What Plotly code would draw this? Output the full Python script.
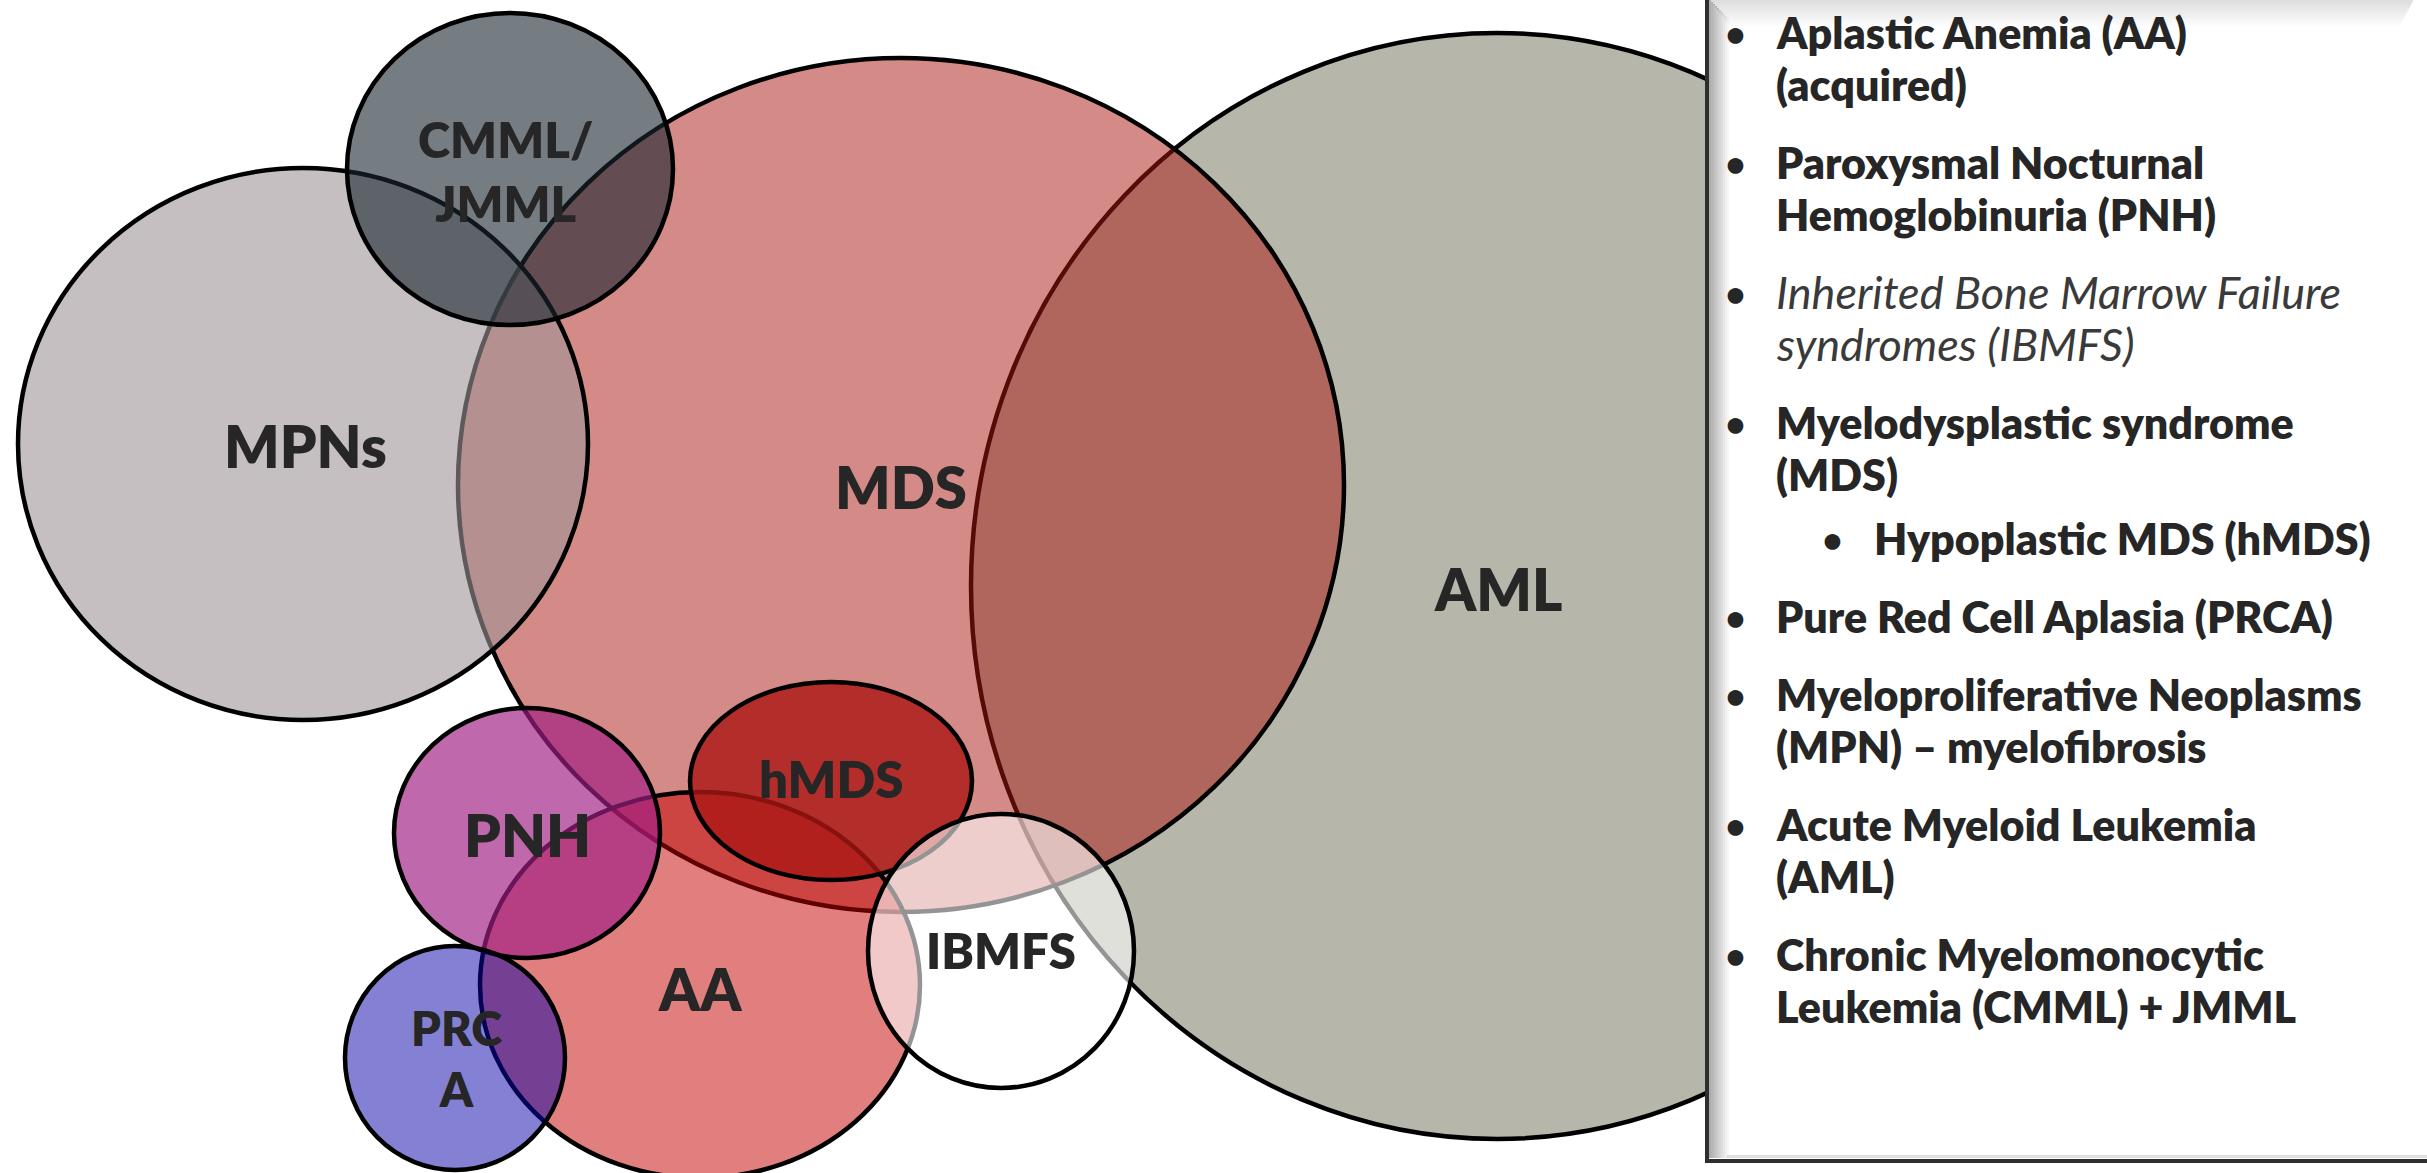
import plotly.graph_objects as go

W, H = 2427, 1173

# ---- Venn / overlap diagram data (centres and radii in chart units) ----
names = ["AML", "MDS", "MPNs", "CMML/JMML", "AA", "hMDS", "PNH", "PRCA", "IBMFS"]
cx = [1497, 901, 303, 510, 700, 831, 527, 455, 1001]
cy = [586, 485, 444, 169, 985, 781, 833, 1058, 951]
rx = [526, 443, 285, 163, 220, 141, 133, 110, 133]
ry = [553, 427, 276, 156, 193, 99, 125, 112, 137]

labels = ["AML", "MDS", "MPNs", "CMML/<br>JMML", "AA", "hMDS", "PNH", "PRC<br>A", "IBMFS"]
label_x = [1498, 901, 305, 505, 700, 831, 527, 456, 1001]
label_y = [588, 486, 445, 171, 988, 778, 834, 1058, 950]

# ---- legend list ----
legend_items = [
    ["Aplastic Anemia (AA)", "(acquired)"],
    ["Paroxysmal Nocturnal", "Hemoglobinuria (PNH)"],
    ["Inherited Bone Marrow Failure", "syndromes (IBMFS)"],
    ["Myelodysplastic syndrome", "(MDS)"],
    ["Hypoplastic MDS (hMDS)"],
    ["Pure Red Cell Aplasia (PRCA)"],
    ["Myeloproliferative Neoplasms", "(MPN) – myelofibrosis"],
    ["Acute Myeloid Leukemia", "(AML)"],
    ["Chronic Myelomonocytic", "Leukemia (CMML) + JMML"],
]
legend_level = [0, 0, 0, 0, 1, 0, 0, 0, 0]
legend_italic = [False, False, True, False, False, False, False, False, False]

# ---- styles ----
fills = [
    "rgba(182,182,170,1)",
    "rgba(169,21,15,0.5)",
    "rgba(158,148,152,0.6)",
    "rgba(25,37,47,0.6)",
    "rgba(195,0,0,0.5)",
    "rgba(170,22,20,0.8)",
    "rgba(161,30,131,0.67)",
    "rgba(9,1,169,0.5)",
    "rgba(255,255,255,0.58)",
]
label_size = [58, 58, 58, 49, 58, 51, 58, 47, 49]
FONT = "Lato"
TXT = "#262626"

fig = go.Figure()
fig.add_trace(go.Scatter(x=[0, W], y=[0, H], mode="markers",
                         marker=dict(opacity=0), hoverinfo="skip", showlegend=False))

shapes = []
for i in range(len(names)):
    shapes.append(dict(type="circle", xref="x", yref="y",
                       x0=cx[i] - rx[i], x1=cx[i] + rx[i],
                       y0=cy[i] - ry[i], y1=cy[i] + ry[i],
                       fillcolor=fills[i], line=dict(color="black", width=4.5),
                       layer="above"))

# legend box
BX0, BY0, BX1, BY1 = 1707, -2, 2445, 1161
shapes.append(dict(type="rect", xref="x", yref="y", x0=BX0, x1=BX1, y0=BY0, y1=BY1,
                   fillcolor="white", line=dict(color="#2e2e2e", width=4), layer="above"))
# bevel shading
n = 10
for k in range(n):
    a = 0.32 * (1 - k / n)
    shapes.append(dict(type="rect", xref="x", yref="y",
                       x0=BX0 + 2 + k * 2, x1=BX0 + 4 + k * 2, y0=BY0 + 2 + k * 2, y1=BY1 - 3,
                       fillcolor=f"rgba(0,0,0,{a:.3f})", line=dict(width=0), layer="above"))
    b = 0.13 * (1 - k / n)
    shapes.append(dict(type="rect", xref="x", yref="y",
                       x0=BX0 + 4 + k * 2, x1=2413 - k * 1.4, y0=BY0 + 2 + k * 2.6, y1=BY0 + 4.6 + k * 2.6,
                       fillcolor=f"rgba(0,0,0,{b:.3f})", line=dict(width=0), layer="above"))
shapes.append(dict(type="rect", xref="x", yref="y", x0=BX0 + 20, x1=BX1, y0=BY1 - 6, y1=BY1 - 3,
                   fillcolor="rgba(0,0,0,0.12)", line=dict(width=0), layer="above"))

annotations = []
for i in range(len(names)):
    annotations.append(dict(x=label_x[i], y=label_y[i], xref="x", yref="y",
                            text=labels[i], showarrow=False,
                            xanchor="center", yanchor="middle",
                            font=dict(family=FONT, size=label_size[i], color=TXT, weight=800)))

LS = 43          # legend font size
LINE = 52        # line spacing
GAP = 78         # gap between items
SUBGAP = 64
base = 48
for j, item in enumerate(legend_items):
    if j > 0:
        base += SUBGAP if legend_level[j] == 1 else GAP
    lvl = legend_level[j]
    bx = 1735 + lvl * 97
    tx = 1774 + lvl * 98
    ymid = base - 0.36 * LS
    annotations.append(dict(x=bx, y=ymid, xref="x", yref="y", text="•", showarrow=False,
                            xanchor="center", yanchor="middle",
                            font=dict(family=FONT, size=36, color=TXT, weight=700)))
    for li, line in enumerate(item):
        y_b = base + li * LINE
        if legend_italic[j]:
            fnt = dict(family=FONT, size=45, color="#3a3a3a", style="italic", weight=400)
            ys = 45
        else:
            fnt = dict(family=FONT, size=LS, color=TXT, weight=800)
            ys = LS
        annotations.append(dict(x=tx, y=y_b - 0.36 * ys, xref="x", yref="y", text=line,
                                showarrow=False, xanchor="left", yanchor="middle", font=fnt))
    base += (len(item) - 1) * LINE

fig.update_layout(
    width=W, height=H, autosize=False,
    margin=dict(l=0, r=0, t=0, b=0, pad=0),
    paper_bgcolor="white", plot_bgcolor="white",
    xaxis=dict(range=[0, W], visible=False, fixedrange=True),
    yaxis=dict(range=[H, 0], visible=False, fixedrange=True),
    shapes=shapes, annotations=annotations, showlegend=False,
)

fig.write_html("out.html", config={"displayModeBar": False},
               post_script="document.body.style.margin='0';")
